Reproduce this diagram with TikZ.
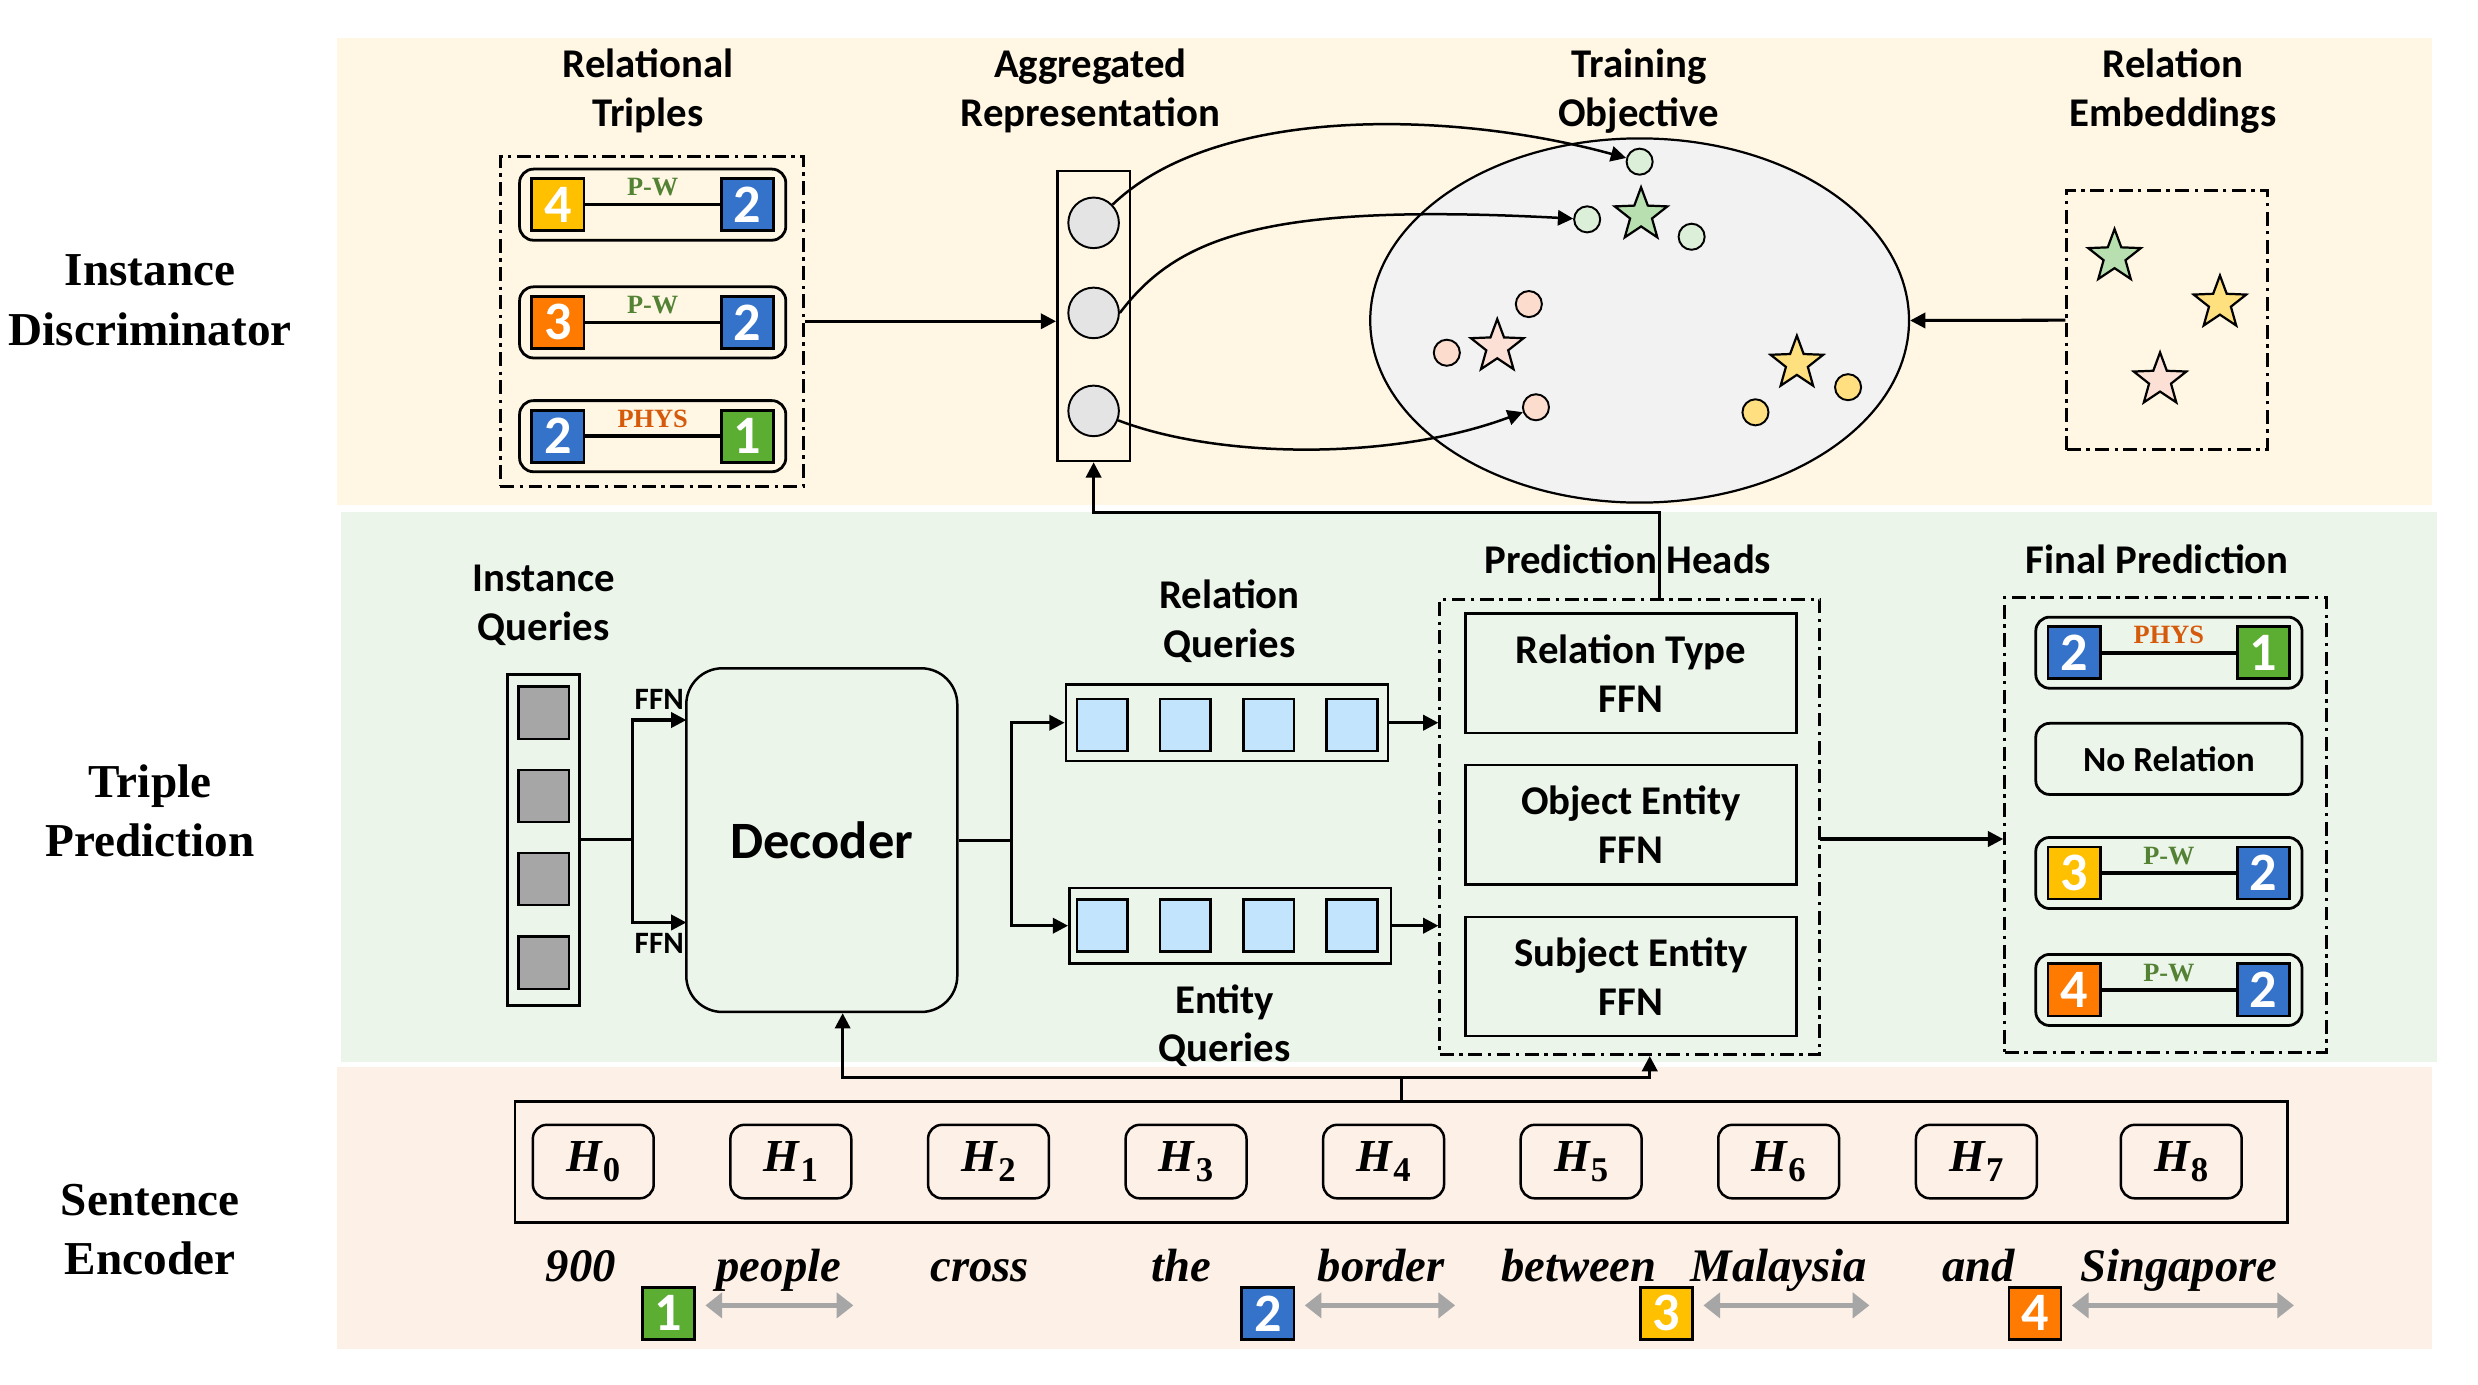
\documentclass[tikz,border=0pt]{standalone}
\usepackage{fontspec}
\setmainfont{Liberation Serif}
\newfontfamily\calib{Carlito}
\usetikzlibrary{arrows.meta,shapes.geometric,positioning}

\definecolor{bandY}{HTML}{FFF7E4}
\definecolor{bandG}{HTML}{ECF5EA}
\definecolor{bandP}{HTML}{FDF0E7}
\definecolor{cYel}{HTML}{FFC000}
\definecolor{cOra}{HTML}{FF7A00}
\definecolor{cBlu}{HTML}{3572CA}
\definecolor{cGre}{HTML}{5CAE33}
\definecolor{cPW}{HTML}{548235}
\definecolor{cPH}{HTML}{D55A0B}
\definecolor{qGray}{HTML}{A6A6A6}
\definecolor{qBlue}{HTML}{C2E4FC}
\definecolor{aggGray}{HTML}{E4E4E4}
\definecolor{ellGray}{HTML}{F2F2F2}
\definecolor{dGre}{HTML}{DCEFD8}
\definecolor{dPin}{HTML}{FCDCCD}
\definecolor{dYel}{HTML}{FFDF80}
\definecolor{sGre}{HTML}{B7DFB0}
\definecolor{sPin}{HTML}{FCE0D5}
\definecolor{sYel}{HTML}{FFE07F}

\tikzset{
  lbl/.style={font=\calib\bfseries\fontsize{14.7}{17.6}\selectfont, align=center},
  sect/.style={font=\bfseries\fontsize{17}{21.5}\selectfont, align=center, inner sep=0},
  word/.style={font=\bfseries\itshape\fontsize{16.8}{18}\selectfont, anchor=base, inner sep=0},
  numsq/.style={draw, line width=1pt, minimum size=0.66cm, inner sep=0, text=white,
    font=\calib\bfseries\fontsize{19.5}{19.5}\selectfont},
  rlab/.style={font=\bfseries\fontsize{9.5}{9.5}\selectfont, inner sep=0},
  tribox/.style={draw, rounded corners=5pt, line width=1pt, minimum width=3.37cm, minimum height=0.9cm},
  ddbox/.style={draw, line width=1.1pt, dash pattern=on 5pt off 2pt on 1.2pt off 2pt},
  box/.style={draw, line width=0.9pt, inner sep=0},
  qsq/.style={draw, line width=0.9pt, minimum width=0.64cm, minimum height=0.66cm, inner sep=0},
  arr/.style={-{Triangle[length=5.5pt,width=5.5pt]}, line width=1.1pt},
  carr/.style={-{Triangle[length=5.5pt,width=5.5pt]}, line width=0.9pt},
  garr/.style={{Triangle[length=6pt,width=9pt]}-{Triangle[length=6pt,width=9pt]}, line width=2pt, qGray},
  dot/.style={circle, draw, line width=0.7pt, minimum size=0.33cm, inner sep=0},
  emb/.style={star, star points=5, star point ratio=2.4, draw, line width=0.8pt, minimum size=0.7cm, inner sep=0},
  hbox/.style={draw, rounded corners=5pt, line width=0.9pt, minimum width=1.53cm, minimum height=0.93cm,
    font=\fontsize{16.5}{16.5}\selectfont},
}

% one triple: name, centre, left number, colour, relation, colour, right number, colour
\newcommand\reltriple[8]{%
  \node[tribox] (#1) at #2 {};
  \node[numsq, fill=#4] (#1l) at ([xshift=-1.2cm]#1.center) {#3};
  \node[numsq, fill=#8] (#1r) at ([xshift=1.2cm]#1.center) {#7};
  \draw[line width=1.3pt] (#1l) -- (#1r);
  \node[rlab, text=#6] (#1t) at ([yshift=0.22cm]#1.center) {#5};
}
\newcommand\hsub[1]{\textbf{\textit{H}}\raisebox{-0.45ex}{\fontsize{12.5}{12.5}\selectfont\bfseries #1}}

\begin{document}
\begin{tikzpicture}[x=0.02cm, y=-0.02cm]
\useasboundingbox (0,0) rectangle (1568,876);

% bands
\fill[bandY] (213,24) rectangle (1539,319.5);
\fill[bandG] (216,324) rectangle (1542,672);
\fill[bandP] (213,675) rectangle (1539,853.5);

\node[sect] (secID) at (95,190) {Instance\\Discriminator};
\node[sect] (secTP) at (95,513) {Triple\\Prediction};
\node[sect] (secSE) at (95,778) {Sentence\\Encoder};

% instance discriminator
\node[lbl] (tripT) at (410,57.5) {Relational\\Triples};
\node[lbl] (aggT) at (690,57.5) {Aggregated\\Representation};
\node[lbl] (objT) at (1037,57.5) {Training\\Objective};
\node[lbl] (embT) at (1375,57.5) {Relation\\Embeddings};

\reltriple{ta}{(413,129.5)}{4}{cYel}{P-W}{cPW}{2}{cBlu}
\reltriple{tb}{(413,204)}{3}{cOra}{P-W}{cPW}{2}{cBlu}
\reltriple{tc}{(413,276)}{2}{cBlu}{PHYS}{cPH}{1}{cGre}
\node[ddbox, minimum width=3.84cm, minimum height=4.18cm] (tripbox) at (412.5,203.3) {};

\node[box, minimum width=0.92cm, minimum height=3.67cm] (agg) at (692,200) {};
\node[dot, fill=aggGray, minimum size=0.64cm] (a1) at (692,141) {};
\node[dot, fill=aggGray, minimum size=0.64cm] (a2) at (692,198) {};
\node[dot, fill=aggGray, minimum size=0.64cm] (a3) at (692,260) {};
\draw[arr] (tripbox.east) -- (tripbox.east -| agg.west);

\node[ellipse, draw, fill=ellGray, line width=0.8pt, minimum width=6.82cm, minimum height=4.61cm, inner sep=0] (obj) at (1037.5,202.8) {};
\node[emb, fill=sGre] (sg) at (1038.4,136) {};
\node[emb, fill=sPin] (sp) at (947.4,219.4) {};
\node[emb, fill=sYel] (sy) at (1137,229.9) {};
\node[dot, fill=dGre] (g1) at (1037.5,102.3) {};
\node[dot, fill=dGre] (g2) at (1004.3,138.8) {};
\node[dot, fill=dGre] (g3) at (1070.4,149.8) {};
\node[dot, fill=dPin] (p1) at (967.4,192.4) {};
\node[dot, fill=dPin] (p2) at (915.5,223.2) {};
\node[dot, fill=dPin] (p3) at (971.9,257.7) {};
\node[dot, fill=dYel] (y1) at (1169.4,245) {};
\node[dot, fill=dYel] (y2) at (1110.8,260.9) {};

\draw[carr] (a1) .. controls (770,66) and (920,70) .. (g1);
\draw[carr] (a2.east) .. controls (745,150) and (800,128) .. (g2);
\draw[carr] (a3) .. controls (770,290) and (880,292) .. (p3);

\node[ddbox, minimum width=2.54cm, minimum height=3.28cm] (embbox) at (1371.3,202.6) {};
\node[emb, fill=sGre] (eg) at (1338,162.4) {};
\node[emb, fill=sYel] (ey) at (1404.7,191.8) {};
\node[emb, fill=sPin] (ep) at (1366.8,240.5) {};
\draw[arr] (embbox.west) -- (obj.east);

% triple prediction
\node[lbl] (instT) at (344,383) {Instance\\Queries};
\node[box, minimum width=0.91cm, minimum height=4.19cm] (inst) at (344,531.4) {};
\foreach \y [count=\i] in {451,503.6,556.2,609.2}
  \node[qsq, fill=qGray] (iq\i) at (344,\y) {};

\node[draw, line width=0.9pt, rounded corners=13pt, minimum width=3.43cm, minimum height=4.35cm,
  font=\calib\bfseries\fontsize{18.9}{18.9}\selectfont] (dec) at (520,531.6) {Decoder};

\coordinate (ffnj) at (400,531);
\coordinate (ffnA) at (434.3,455.6);
\coordinate (ffnB) at (434.3,583.7);
\draw[line width=1.1pt] (inst.east |- ffnj) -- (ffnj);
\draw[arr] (ffnj) |- node[pos=0.75, above, font=\calib\bfseries\fontsize{11.2}{11.2}\selectfont] (ffn1) {FFN} (ffnA);
\draw[arr] (ffnj) |- node[pos=0.75, below, font=\calib\bfseries\fontsize{11.2}{11.2}\selectfont] (ffn2) {FFN} (ffnB);

\node[box, minimum width=4.08cm, minimum height=0.97cm] (relq) at (776.4,457.3) {};
\node[box, minimum width=4.07cm, minimum height=0.96cm] (entq) at (778.35,585.75) {};
\foreach \x [count=\i] in {697.5,750.1,802.7,855.5} {
  \node[qsq, fill=qBlue] (rq\i) at (\x,458.7) {};
  \node[qsq, fill=qBlue] (eq\i) at (\x,585.7) {};
}
\node[lbl] (relqT) at (778,393) {Relation\\Queries};
\node[lbl] (entqT) at (775,649) {Entity\\Queries};

\coordinate (qj) at (640,531.7);
\draw[line width=1.1pt] (dec.east |- qj) -- (qj);
\draw[arr] (qj) |- (relq.west);
\draw[arr] (qj) |- (entq.west);

\node[ddbox, minimum width=4.81cm, minimum height=5.76cm] (heads) at (1031.35,523.25) {};
\node[lbl] (headsT) at (1030,354) {Prediction Heads};
\node[box, lbl, minimum width=4.19cm, minimum height=1.51cm] (hrel) at (1032,426) {Relation Type\\FFN};
\node[box, lbl, minimum width=4.19cm, minimum height=1.51cm] (hobj) at (1032,521.9) {Object Entity\\FFN};
\node[box, lbl, minimum width=4.19cm, minimum height=1.51cm] (hsub) at (1032,617.85) {Subject Entity\\FFN};
\draw[arr] (relq.east) -- (relq.east -| heads.west);
\draw[arr] (entq.east) -- (entq.east -| heads.west);

\coordinate (turn) at (1050.2,324.4);
\draw[arr] (turn |- heads.north) -- (turn) -| (agg.south);

\node[ddbox, minimum width=4.07cm, minimum height=5.75cm] (final) at (1370.25,522) {};
\node[lbl] (finalT) at (1365,354) {Final Prediction};
\reltriple{fa}{(1372.4,413)}{2}{cBlu}{PHYS}{cPH}{1}{cGre}
\node[tribox, font=\calib\bfseries\fontsize{12.7}{12.7}\selectfont] (fb) at (1372.4,480.2) {No Relation};
\reltriple{fc}{(1372.4,552.4)}{3}{cYel}{P-W}{cPW}{2}{cBlu}
\reltriple{fd}{(1372.4,626.4)}{4}{cOra}{P-W}{cPW}{2}{cBlu}

\coordinate (toFinal) at (1151.5,530.9);
\draw[arr] (toFinal) -- (toFinal -| final.west);

% sentence encoder
\node[box, minimum width=22.44cm, minimum height=1.53cm] (enc) at (886.65,735.3) {};
\foreach \x [count=\i from 0] in {375.4,500.4,625.5,750.5,875.5,1000.5,1125.5,1250.6,1380.2}
  \node[hbox] (h\i) at (\x,735) {\hsub{\i}};

\coordinate (busL) at (533.2,681.5);
\coordinate (busR) at (1043.9,681.5);
\draw[line width=1.1pt] (enc.north) -- (enc.north |- busL);
\draw[arr] (enc.north |- busL) -| (dec.south -| busL);
\draw[arr] (enc.north |- busL) -| (heads.south -| busR);

\foreach \x/\w in {367.6/900, 492.8/people, 620/cross, 747.3/the, 874/border, 999/between,
  1125.5/Malaysia, 1252/and, 1378.6/Singapore}
  \node[word] (w-\w) at (\x,811) {\w};

\node[numsq, fill=cGre] (n1) at (423,831) {1};
\node[numsq, fill=cBlu] (n2) at (802.25,831) {2};
\node[numsq, fill=cYel] (n3) at (1054.5,831) {3};
\node[numsq, fill=cOra] (n4) at (1287.65,831) {4};
\draw[garr] ([shift={(0.12cm,0.1cm)}]n1.east) -- ++(93.6,0);
\draw[garr] ([shift={(0.12cm,0.1cm)}]n2.east) -- ++(95.1,0);
\draw[garr] ([shift={(0.12cm,0.1cm)}]n3.east) -- ++(105,0);
\draw[garr] ([shift={(0.12cm,0.1cm)}]n4.east) -- ++(140.5,0);
\end{tikzpicture}
\end{document}
